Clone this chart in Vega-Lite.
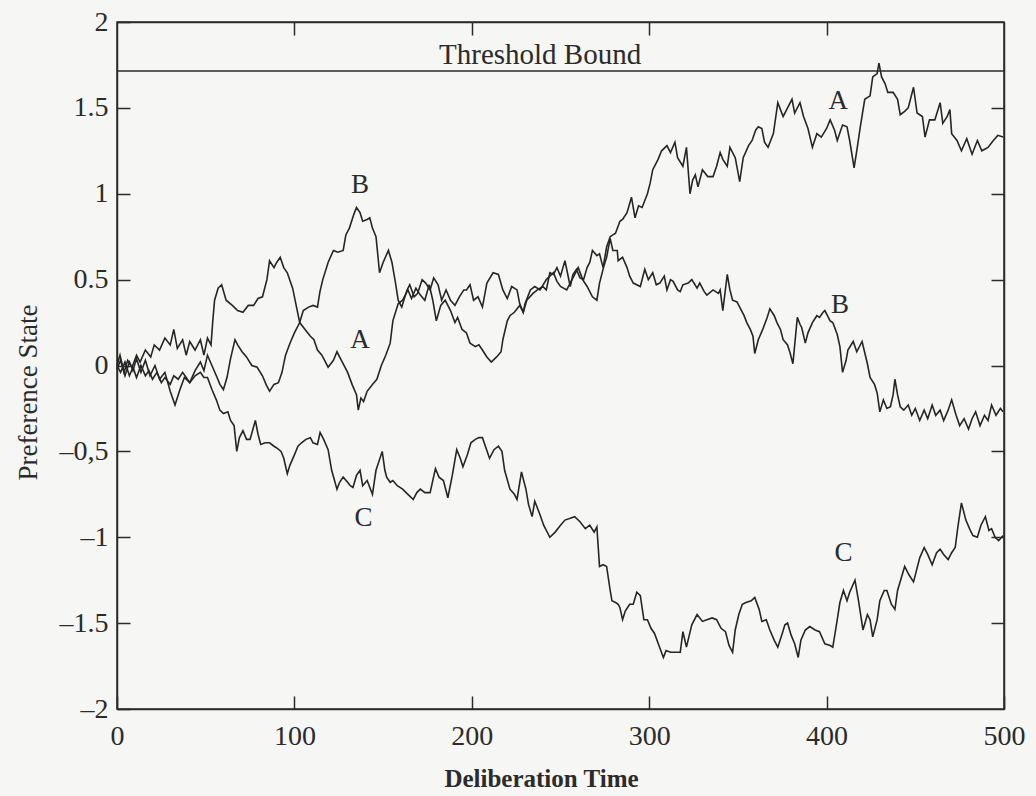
{
  "$schema": "https://vega.github.io/schema/vega-lite/v6.json",
  "width": 887,
  "height": 687,
  "autosize": {"type": "none"},
  "padding": {"left": 117, "top": 22, "right": 32, "bottom": 87},
  "background": "#f6f6f4",
  "config": {
    "view": {"stroke": "#2b2b2b", "strokeWidth": 1.5},
    "font": "Liberation Serif",
    "axis": {
      "labelFont": "Liberation Serif",
      "titleFont": "Liberation Serif",
      "labelColor": "#2b2b2b",
      "titleColor": "#2b2b2b",
      "domainColor": "#2b2b2b",
      "tickColor": "#2b2b2b",
      "domainWidth": 1.5,
      "tickWidth": 1.5,
      "grid": false
    }
  },
  "datasets": {
    "paths": [
      {"s":"A","t":0,"v":0},{"s":"A","t":1.7,"v":0.06},{"s":"A","t":4,"v":-0.04},{"s":"A","t":6,"v":0.03},{"s":"A","t":8.5,"v":-0.01},{"s":"A","t":11,"v":0.06},{"s":"A","t":13,"v":0.02},{"s":"A","t":16,"v":0.09},{"s":"A","t":19,"v":0.05},{"s":"A","t":21,"v":0.12},{"s":"A","t":24,"v":0.09},{"s":"A","t":27,"v":0.16},{"s":"A","t":30,"v":0.12},{"s":"A","t":32,"v":0.21},{"s":"A","t":34,"v":0.1},{"s":"A","t":37,"v":0.15},{"s":"A","t":39,"v":0.06},{"s":"A","t":41,"v":0.14},{"s":"A","t":44,"v":0.09},{"s":"A","t":47,"v":0.15},{"s":"A","t":49,"v":0.06},{"s":"A","t":51,"v":0.16},{"s":"A","t":53,"v":0.12},{"s":"A","t":54,"v":0.26},{"s":"A","t":55,"v":0.38},{"s":"A","t":57,"v":0.45},{"s":"A","t":59,"v":0.47},{"s":"A","t":61.5,"v":0.38},{"s":"A","t":65,"v":0.35},{"s":"A","t":68,"v":0.32},{"s":"A","t":71,"v":0.31},{"s":"A","t":74,"v":0.35},{"s":"A","t":77,"v":0.35},{"s":"A","t":79.5,"v":0.39},{"s":"A","t":82,"v":0.4},{"s":"A","t":84.5,"v":0.5},{"s":"A","t":86,"v":0.61},{"s":"A","t":88.5,"v":0.57},{"s":"A","t":90,"v":0.6},{"s":"A","t":92,"v":0.63},{"s":"A","t":94,"v":0.57},{"s":"A","t":96,"v":0.54},{"s":"A","t":99,"v":0.45},{"s":"A","t":101,"v":0.35},{"s":"A","t":103,"v":0.25},{"s":"A","t":106,"v":0.21},{"s":"A","t":109,"v":0.17},{"s":"A","t":111,"v":0.15},{"s":"A","t":113,"v":0.09},{"s":"A","t":115.5,"v":0.06},{"s":"A","t":119,"v":-0.01},{"s":"A","t":122,"v":0.03},{"s":"A","t":124,"v":0.08},{"s":"A","t":127,"v":0.02},{"s":"A","t":130,"v":-0.04},{"s":"A","t":132.5,"v":-0.11},{"s":"A","t":135,"v":-0.17},{"s":"A","t":136,"v":-0.26},{"s":"A","t":137.5,"v":-0.19},{"s":"A","t":139,"v":-0.21},{"s":"A","t":141,"v":-0.15},{"s":"A","t":144,"v":-0.11},{"s":"A","t":146.5,"v":-0.08},{"s":"A","t":149,"v":0},{"s":"A","t":151.5,"v":0.06},{"s":"A","t":154,"v":0.13},{"s":"A","t":155.5,"v":0.26},{"s":"A","t":158.5,"v":0.36},{"s":"A","t":161,"v":0.38},{"s":"A","t":164,"v":0.44},{"s":"A","t":166,"v":0.39},{"s":"A","t":168.5,"v":0.45},{"s":"A","t":171,"v":0.41},{"s":"A","t":173.5,"v":0.38},{"s":"A","t":176,"v":0.47},{"s":"A","t":178,"v":0.38},{"s":"A","t":180,"v":0.26},{"s":"A","t":182.5,"v":0.35},{"s":"A","t":185,"v":0.38},{"s":"A","t":188,"v":0.32},{"s":"A","t":190.5,"v":0.25},{"s":"A","t":192,"v":0.28},{"s":"A","t":194.5,"v":0.21},{"s":"A","t":197,"v":0.19},{"s":"A","t":199,"v":0.13},{"s":"A","t":202,"v":0.11},{"s":"A","t":204,"v":0.12},{"s":"A","t":206,"v":0.09},{"s":"A","t":208.5,"v":0.05},{"s":"A","t":211,"v":0.02},{"s":"A","t":214,"v":0.05},{"s":"A","t":216.5,"v":0.08},{"s":"A","t":217.5,"v":0.15},{"s":"A","t":220,"v":0.26},{"s":"A","t":221.5,"v":0.29},{"s":"A","t":224,"v":0.31},{"s":"A","t":227,"v":0.35},{"s":"A","t":229,"v":0.31},{"s":"A","t":231,"v":0.38},{"s":"A","t":234.5,"v":0.42},{"s":"A","t":237,"v":0.44},{"s":"A","t":240,"v":0.46},{"s":"A","t":242,"v":0.44},{"s":"A","t":244,"v":0.54},{"s":"A","t":246,"v":0.53},{"s":"A","t":248,"v":0.57},{"s":"A","t":250,"v":0.52},{"s":"A","t":252.5,"v":0.61},{"s":"A","t":255.5,"v":0.46},{"s":"A","t":257,"v":0.53},{"s":"A","t":259,"v":0.56},{"s":"A","t":261,"v":0.51},{"s":"A","t":263,"v":0.5},{"s":"A","t":265,"v":0.57},{"s":"A","t":266.5,"v":0.6},{"s":"A","t":268,"v":0.67},{"s":"A","t":270.5,"v":0.64},{"s":"A","t":272,"v":0.65},{"s":"A","t":274,"v":0.57},{"s":"A","t":276,"v":0.69},{"s":"A","t":278,"v":0.75},{"s":"A","t":281,"v":0.77},{"s":"A","t":283.5,"v":0.84},{"s":"A","t":285,"v":0.85},{"s":"A","t":287.5,"v":0.89},{"s":"A","t":290,"v":0.98},{"s":"A","t":292,"v":0.86},{"s":"A","t":294,"v":0.93},{"s":"A","t":296,"v":0.92},{"s":"A","t":299,"v":1.0},{"s":"A","t":300.5,"v":1.06},{"s":"A","t":302,"v":1.14},{"s":"A","t":305,"v":1.2},{"s":"A","t":307,"v":1.25},{"s":"A","t":310,"v":1.28},{"s":"A","t":312,"v":1.24},{"s":"A","t":314.5,"v":1.3},{"s":"A","t":316,"v":1.21},{"s":"A","t":319,"v":1.16},{"s":"A","t":321,"v":1.27},{"s":"A","t":323,"v":1.0},{"s":"A","t":324.5,"v":1.08},{"s":"A","t":326,"v":1.11},{"s":"A","t":327.5,"v":1.04},{"s":"A","t":330,"v":1.14},{"s":"A","t":333,"v":1.1},{"s":"A","t":336,"v":1.1},{"s":"A","t":338,"v":1.16},{"s":"A","t":340,"v":1.24},{"s":"A","t":341.5,"v":1.2},{"s":"A","t":344,"v":1.16},{"s":"A","t":345.5,"v":1.27},{"s":"A","t":348.5,"v":1.21},{"s":"A","t":351,"v":1.07},{"s":"A","t":353,"v":1.21},{"s":"A","t":356,"v":1.28},{"s":"A","t":358,"v":1.31},{"s":"A","t":360,"v":1.37},{"s":"A","t":361.5,"v":1.39},{"s":"A","t":363.5,"v":1.38},{"s":"A","t":365,"v":1.3},{"s":"A","t":367,"v":1.27},{"s":"A","t":370,"v":1.35},{"s":"A","t":372.5,"v":1.53},{"s":"A","t":375.5,"v":1.45},{"s":"A","t":378,"v":1.5},{"s":"A","t":380.5,"v":1.55},{"s":"A","t":382,"v":1.47},{"s":"A","t":385,"v":1.53},{"s":"A","t":387,"v":1.45},{"s":"A","t":389.5,"v":1.38},{"s":"A","t":392,"v":1.27},{"s":"A","t":394.5,"v":1.35},{"s":"A","t":397,"v":1.33},{"s":"A","t":400,"v":1.38},{"s":"A","t":402,"v":1.43},{"s":"A","t":404.5,"v":1.37},{"s":"A","t":406,"v":1.31},{"s":"A","t":409,"v":1.4},{"s":"A","t":411.5,"v":1.39},{"s":"A","t":413,"v":1.31},{"s":"A","t":415.5,"v":1.15},{"s":"A","t":417,"v":1.25},{"s":"A","t":419,"v":1.39},{"s":"A","t":421.5,"v":1.55},{"s":"A","t":424.5,"v":1.57},{"s":"A","t":426,"v":1.68},{"s":"A","t":428.5,"v":1.7},{"s":"A","t":429.5,"v":1.76},{"s":"A","t":431,"v":1.68},{"s":"A","t":433,"v":1.64},{"s":"A","t":434.5,"v":1.59},{"s":"A","t":437.5,"v":1.59},{"s":"A","t":440,"v":1.55},{"s":"A","t":441.5,"v":1.46},{"s":"A","t":444,"v":1.48},{"s":"A","t":446,"v":1.5},{"s":"A","t":449,"v":1.62},{"s":"A","t":451,"v":1.47},{"s":"A","t":454,"v":1.45},{"s":"A","t":455.5,"v":1.33},{"s":"A","t":458,"v":1.43},{"s":"A","t":461,"v":1.43},{"s":"A","t":464,"v":1.53},{"s":"A","t":465.5,"v":1.41},{"s":"A","t":468,"v":1.45},{"s":"A","t":469.5,"v":1.49},{"s":"A","t":470.5,"v":1.35},{"s":"A","t":473.5,"v":1.31},{"s":"A","t":476,"v":1.25},{"s":"A","t":479,"v":1.32},{"s":"A","t":482,"v":1.23},{"s":"A","t":485,"v":1.31},{"s":"A","t":487.5,"v":1.25},{"s":"A","t":491,"v":1.27},{"s":"A","t":494,"v":1.31},{"s":"A","t":496.5,"v":1.34},{"s":"A","t":499.5,"v":1.33},
      {"s":"B","t":0,"v":-0.02},{"s":"B","t":2,"v":0.03},{"s":"B","t":4.5,"v":-0.06},{"s":"B","t":7,"v":0.02},{"s":"B","t":9,"v":-0.03},{"s":"B","t":11,"v":0.04},{"s":"B","t":13.5,"v":-0.04},{"s":"B","t":16,"v":0.03},{"s":"B","t":18.6,"v":-0.06},{"s":"B","t":21.4,"v":0},{"s":"B","t":24,"v":-0.08},{"s":"B","t":27,"v":-0.04},{"s":"B","t":30,"v":-0.15},{"s":"B","t":32.7,"v":-0.23},{"s":"B","t":35.5,"v":-0.14},{"s":"B","t":38,"v":-0.07},{"s":"B","t":41,"v":-0.1},{"s":"B","t":44,"v":-0.03},{"s":"B","t":47,"v":0.02},{"s":"B","t":49,"v":-0.03},{"s":"B","t":51,"v":0.06},{"s":"B","t":53.5,"v":0},{"s":"B","t":56,"v":-0.06},{"s":"B","t":58,"v":-0.11},{"s":"B","t":60,"v":-0.14},{"s":"B","t":62,"v":-0.07},{"s":"B","t":64,"v":0.04},{"s":"B","t":66.5,"v":0.15},{"s":"B","t":68,"v":0.12},{"s":"B","t":70.5,"v":0.08},{"s":"B","t":73,"v":0.05},{"s":"B","t":76,"v":0},{"s":"B","t":79,"v":-0.01},{"s":"B","t":82,"v":-0.06},{"s":"B","t":84,"v":-0.11},{"s":"B","t":86,"v":-0.15},{"s":"B","t":88.5,"v":-0.11},{"s":"B","t":91,"v":-0.1},{"s":"B","t":93,"v":-0.04},{"s":"B","t":95,"v":0.06},{"s":"B","t":97.5,"v":0.13},{"s":"B","t":100,"v":0.19},{"s":"B","t":103,"v":0.25},{"s":"B","t":105,"v":0.32},{"s":"B","t":108,"v":0.34},{"s":"B","t":110.5,"v":0.35},{"s":"B","t":113,"v":0.34},{"s":"B","t":114.4,"v":0.43},{"s":"B","t":116,"v":0.5},{"s":"B","t":119,"v":0.6},{"s":"B","t":122,"v":0.67},{"s":"B","t":124.5,"v":0.66},{"s":"B","t":127.5,"v":0.67},{"s":"B","t":129,"v":0.76},{"s":"B","t":131,"v":0.8},{"s":"B","t":133.5,"v":0.88},{"s":"B","t":135,"v":0.92},{"s":"B","t":137,"v":0.89},{"s":"B","t":138.5,"v":0.84},{"s":"B","t":141,"v":0.85},{"s":"B","t":142.5,"v":0.86},{"s":"B","t":144,"v":0.8},{"s":"B","t":146,"v":0.75},{"s":"B","t":148,"v":0.54},{"s":"B","t":150,"v":0.6},{"s":"B","t":153,"v":0.67},{"s":"B","t":155,"v":0.6},{"s":"B","t":157,"v":0.48},{"s":"B","t":158.5,"v":0.38},{"s":"B","t":160.5,"v":0.34},{"s":"B","t":163.5,"v":0.44},{"s":"B","t":165,"v":0.47},{"s":"B","t":167.5,"v":0.4},{"s":"B","t":169.5,"v":0.42},{"s":"B","t":172,"v":0.5},{"s":"B","t":174,"v":0.48},{"s":"B","t":176.5,"v":0.44},{"s":"B","t":178.5,"v":0.51},{"s":"B","t":181,"v":0.47},{"s":"B","t":183,"v":0.38},{"s":"B","t":185.5,"v":0.44},{"s":"B","t":188,"v":0.38},{"s":"B","t":190.5,"v":0.35},{"s":"B","t":193,"v":0.4},{"s":"B","t":195.5,"v":0.44},{"s":"B","t":197,"v":0.44},{"s":"B","t":199,"v":0.47},{"s":"B","t":201,"v":0.38},{"s":"B","t":203.5,"v":0.4},{"s":"B","t":206,"v":0.34},{"s":"B","t":208.5,"v":0.48},{"s":"B","t":212,"v":0.54},{"s":"B","t":215,"v":0.53},{"s":"B","t":217.5,"v":0.44},{"s":"B","t":220,"v":0.39},{"s":"B","t":222.5,"v":0.46},{"s":"B","t":225.5,"v":0.44},{"s":"B","t":227,"v":0.36},{"s":"B","t":229,"v":0.31},{"s":"B","t":230,"v":0.36},{"s":"B","t":233,"v":0.44},{"s":"B","t":235.5,"v":0.46},{"s":"B","t":238.5,"v":0.44},{"s":"B","t":242,"v":0.5},{"s":"B","t":246,"v":0.54},{"s":"B","t":248,"v":0.49},{"s":"B","t":250,"v":0.46},{"s":"B","t":253.5,"v":0.44},{"s":"B","t":256.5,"v":0.5},{"s":"B","t":260,"v":0.57},{"s":"B","t":262.5,"v":0.5},{"s":"B","t":265,"v":0.46},{"s":"B","t":268,"v":0.4},{"s":"B","t":270.5,"v":0.38},{"s":"B","t":272,"v":0.48},{"s":"B","t":274.5,"v":0.58},{"s":"B","t":276,"v":0.63},{"s":"B","t":278,"v":0.74},{"s":"B","t":279.5,"v":0.67},{"s":"B","t":282,"v":0.67},{"s":"B","t":282.5,"v":0.61},{"s":"B","t":285,"v":0.63},{"s":"B","t":287.5,"v":0.57},{"s":"B","t":289,"v":0.52},{"s":"B","t":291,"v":0.48},{"s":"B","t":295,"v":0.46},{"s":"B","t":297.5,"v":0.56},{"s":"B","t":299.5,"v":0.5},{"s":"B","t":302,"v":0.54},{"s":"B","t":304,"v":0.47},{"s":"B","t":306,"v":0.48},{"s":"B","t":308.5,"v":0.52},{"s":"B","t":310,"v":0.44},{"s":"B","t":312,"v":0.5},{"s":"B","t":313.5,"v":0.49},{"s":"B","t":316,"v":0.44},{"s":"B","t":317.5,"v":0.43},{"s":"B","t":319,"v":0.47},{"s":"B","t":322,"v":0.48},{"s":"B","t":324,"v":0.5},{"s":"B","t":327,"v":0.45},{"s":"B","t":328.5,"v":0.48},{"s":"B","t":331,"v":0.43},{"s":"B","t":332.5,"v":0.41},{"s":"B","t":336,"v":0.44},{"s":"B","t":339,"v":0.42},{"s":"B","t":340,"v":0.44},{"s":"B","t":341.5,"v":0.32},{"s":"B","t":344,"v":0.53},{"s":"B","t":345.5,"v":0.44},{"s":"B","t":347,"v":0.38},{"s":"B","t":349.5,"v":0.37},{"s":"B","t":351,"v":0.34},{"s":"B","t":353.5,"v":0.29},{"s":"B","t":355,"v":0.25},{"s":"B","t":357,"v":0.21},{"s":"B","t":358.5,"v":0.17},{"s":"B","t":359.5,"v":0.07},{"s":"B","t":361.5,"v":0.15},{"s":"B","t":364,"v":0.21},{"s":"B","t":366.5,"v":0.28},{"s":"B","t":368,"v":0.33},{"s":"B","t":370.5,"v":0.29},{"s":"B","t":372,"v":0.25},{"s":"B","t":374,"v":0.21},{"s":"B","t":375.5,"v":0.15},{"s":"B","t":378,"v":0.12},{"s":"B","t":379.5,"v":0.07},{"s":"B","t":381,"v":0.01},{"s":"B","t":383.5,"v":0.28},{"s":"B","t":385,"v":0.24},{"s":"B","t":386,"v":0.22},{"s":"B","t":388,"v":0.13},{"s":"B","t":389.5,"v":0.19},{"s":"B","t":392,"v":0.25},{"s":"B","t":394.5,"v":0.29},{"s":"B","t":396,"v":0.28},{"s":"B","t":398,"v":0.31},{"s":"B","t":399,"v":0.32},{"s":"B","t":401,"v":0.28},{"s":"B","t":402,"v":0.26},{"s":"B","t":403.5,"v":0.25},{"s":"B","t":406,"v":0.18},{"s":"B","t":407.5,"v":0.11},{"s":"B","t":409,"v":-0.04},{"s":"B","t":411,"v":0.03},{"s":"B","t":412,"v":0.09},{"s":"B","t":415,"v":0.14},{"s":"B","t":417,"v":0.08},{"s":"B","t":420,"v":0.14},{"s":"B","t":423,"v":0.01},{"s":"B","t":424.5,"v":-0.07},{"s":"B","t":427,"v":-0.11},{"s":"B","t":428.5,"v":-0.16},{"s":"B","t":430,"v":-0.27},{"s":"B","t":432,"v":-0.2},{"s":"B","t":434,"v":-0.25},{"s":"B","t":436,"v":-0.24},{"s":"B","t":437.5,"v":-0.17},{"s":"B","t":438.5,"v":-0.08},{"s":"B","t":440,"v":-0.17},{"s":"B","t":441.5,"v":-0.24},{"s":"B","t":443.5,"v":-0.26},{"s":"B","t":446,"v":-0.23},{"s":"B","t":448,"v":-0.29},{"s":"B","t":450,"v":-0.25},{"s":"B","t":452.5,"v":-0.32},{"s":"B","t":455,"v":-0.26},{"s":"B","t":457,"v":-0.31},{"s":"B","t":459.5,"v":-0.23},{"s":"B","t":461.5,"v":-0.29},{"s":"B","t":464,"v":-0.26},{"s":"B","t":466,"v":-0.32},{"s":"B","t":468.5,"v":-0.26},{"s":"B","t":470.5,"v":-0.2},{"s":"B","t":473,"v":-0.29},{"s":"B","t":475,"v":-0.35},{"s":"B","t":477.5,"v":-0.31},{"s":"B","t":480,"v":-0.37},{"s":"B","t":482,"v":-0.31},{"s":"B","t":484,"v":-0.27},{"s":"B","t":486.5,"v":-0.35},{"s":"B","t":489,"v":-0.29},{"s":"B","t":491,"v":-0.32},{"s":"B","t":493,"v":-0.23},{"s":"B","t":495.5,"v":-0.29},{"s":"B","t":498,"v":-0.25},{"s":"B","t":499.5,"v":-0.27},
      {"s":"C","t":0,"v":0},{"s":"C","t":2,"v":-0.04},{"s":"C","t":4.5,"v":0.02},{"s":"C","t":7,"v":-0.06},{"s":"C","t":9,"v":-0.01},{"s":"C","t":11,"v":-0.07},{"s":"C","t":13.5,"v":0},{"s":"C","t":16,"v":-0.06},{"s":"C","t":18,"v":-0.03},{"s":"C","t":20,"v":-0.08},{"s":"C","t":22.5,"v":-0.04},{"s":"C","t":25,"v":-0.1},{"s":"C","t":27,"v":-0.07},{"s":"C","t":30,"v":-0.11},{"s":"C","t":32,"v":-0.06},{"s":"C","t":34.5,"v":-0.08},{"s":"C","t":37,"v":-0.04},{"s":"C","t":39,"v":-0.07},{"s":"C","t":41,"v":-0.1},{"s":"C","t":44,"v":-0.06},{"s":"C","t":47,"v":-0.04},{"s":"C","t":49,"v":-0.07},{"s":"C","t":51,"v":-0.07},{"s":"C","t":53.5,"v":-0.14},{"s":"C","t":56,"v":-0.2},{"s":"C","t":58,"v":-0.26},{"s":"C","t":60,"v":-0.28},{"s":"C","t":62.5,"v":-0.27},{"s":"C","t":64,"v":-0.32},{"s":"C","t":66,"v":-0.35},{"s":"C","t":67.5,"v":-0.5},{"s":"C","t":69,"v":-0.42},{"s":"C","t":71,"v":-0.38},{"s":"C","t":73,"v":-0.43},{"s":"C","t":75,"v":-0.43},{"s":"C","t":78,"v":-0.32},{"s":"C","t":79.5,"v":-0.4},{"s":"C","t":81,"v":-0.46},{"s":"C","t":83.5,"v":-0.45},{"s":"C","t":86,"v":-0.45},{"s":"C","t":88.5,"v":-0.47},{"s":"C","t":90,"v":-0.48},{"s":"C","t":92.5,"v":-0.5},{"s":"C","t":94,"v":-0.54},{"s":"C","t":96,"v":-0.63},{"s":"C","t":97.5,"v":-0.58},{"s":"C","t":100,"v":-0.52},{"s":"C","t":102,"v":-0.47},{"s":"C","t":104,"v":-0.45},{"s":"C","t":106.5,"v":-0.43},{"s":"C","t":109,"v":-0.42},{"s":"C","t":110.5,"v":-0.45},{"s":"C","t":113,"v":-0.46},{"s":"C","t":114.5,"v":-0.39},{"s":"C","t":116.5,"v":-0.43},{"s":"C","t":119,"v":-0.49},{"s":"C","t":121,"v":-0.61},{"s":"C","t":124,"v":-0.72},{"s":"C","t":125.5,"v":-0.68},{"s":"C","t":127.5,"v":-0.65},{"s":"C","t":130,"v":-0.68},{"s":"C","t":131.5,"v":-0.7},{"s":"C","t":133,"v":-0.71},{"s":"C","t":135,"v":-0.64},{"s":"C","t":137,"v":-0.61},{"s":"C","t":138.5,"v":-0.7},{"s":"C","t":141,"v":-0.67},{"s":"C","t":144,"v":-0.75},{"s":"C","t":146,"v":-0.61},{"s":"C","t":149.5,"v":-0.5},{"s":"C","t":151,"v":-0.61},{"s":"C","t":152,"v":-0.65},{"s":"C","t":154,"v":-0.68},{"s":"C","t":155.5,"v":-0.67},{"s":"C","t":158,"v":-0.7},{"s":"C","t":161,"v":-0.72},{"s":"C","t":164,"v":-0.75},{"s":"C","t":167,"v":-0.78},{"s":"C","t":169,"v":-0.74},{"s":"C","t":171,"v":-0.72},{"s":"C","t":173.5,"v":-0.74},{"s":"C","t":176.5,"v":-0.74},{"s":"C","t":179.5,"v":-0.6},{"s":"C","t":181.5,"v":-0.65},{"s":"C","t":184,"v":-0.67},{"s":"C","t":186.5,"v":-0.77},{"s":"C","t":189,"v":-0.64},{"s":"C","t":191.5,"v":-0.49},{"s":"C","t":193.5,"v":-0.54},{"s":"C","t":195,"v":-0.59},{"s":"C","t":197.5,"v":-0.52},{"s":"C","t":199.5,"v":-0.45},{"s":"C","t":202,"v":-0.43},{"s":"C","t":204,"v":-0.42},{"s":"C","t":206,"v":-0.42},{"s":"C","t":208,"v":-0.48},{"s":"C","t":210,"v":-0.54},{"s":"C","t":212.5,"v":-0.49},{"s":"C","t":215,"v":-0.47},{"s":"C","t":217,"v":-0.5},{"s":"C","t":218.5,"v":-0.61},{"s":"C","t":221.5,"v":-0.72},{"s":"C","t":224,"v":-0.75},{"s":"C","t":225.5,"v":-0.78},{"s":"C","t":228,"v":-0.62},{"s":"C","t":230.5,"v":-0.72},{"s":"C","t":232,"v":-0.81},{"s":"C","t":234,"v":-0.88},{"s":"C","t":235.5,"v":-0.79},{"s":"C","t":238.5,"v":-0.87},{"s":"C","t":240.5,"v":-0.93},{"s":"C","t":244,"v":-1.0},{"s":"C","t":247,"v":-0.97},{"s":"C","t":250,"v":-0.93},{"s":"C","t":252.5,"v":-0.9},{"s":"C","t":255.5,"v":-0.89},{"s":"C","t":258,"v":-0.88},{"s":"C","t":261,"v":-0.91},{"s":"C","t":264,"v":-0.95},{"s":"C","t":266.5,"v":-0.93},{"s":"C","t":269,"v":-0.97},{"s":"C","t":270.5,"v":-0.94},{"s":"C","t":272,"v":-1.17},{"s":"C","t":274,"v":-1.16},{"s":"C","t":276,"v":-1.17},{"s":"C","t":278,"v":-1.31},{"s":"C","t":279,"v":-1.37},{"s":"C","t":281,"v":-1.38},{"s":"C","t":282.5,"v":-1.39},{"s":"C","t":283.5,"v":-1.41},{"s":"C","t":285,"v":-1.48},{"s":"C","t":286.5,"v":-1.43},{"s":"C","t":289,"v":-1.39},{"s":"C","t":291,"v":-1.39},{"s":"C","t":293,"v":-1.32},{"s":"C","t":295,"v":-1.34},{"s":"C","t":297,"v":-1.48},{"s":"C","t":299,"v":-1.48},{"s":"C","t":301,"v":-1.53},{"s":"C","t":303,"v":-1.56},{"s":"C","t":305.5,"v":-1.63},{"s":"C","t":308,"v":-1.7},{"s":"C","t":309.5,"v":-1.66},{"s":"C","t":312,"v":-1.67},{"s":"C","t":314.5,"v":-1.67},{"s":"C","t":317.5,"v":-1.67},{"s":"C","t":319,"v":-1.55},{"s":"C","t":321,"v":-1.64},{"s":"C","t":324,"v":-1.51},{"s":"C","t":327,"v":-1.45},{"s":"C","t":330,"v":-1.49},{"s":"C","t":332.5,"v":-1.48},{"s":"C","t":335.5,"v":-1.47},{"s":"C","t":338,"v":-1.48},{"s":"C","t":340.5,"v":-1.53},{"s":"C","t":343,"v":-1.55},{"s":"C","t":345,"v":-1.63},{"s":"C","t":347,"v":-1.67},{"s":"C","t":348.5,"v":-1.54},{"s":"C","t":350.5,"v":-1.45},{"s":"C","t":352.5,"v":-1.39},{"s":"C","t":354.5,"v":-1.38},{"s":"C","t":357.5,"v":-1.37},{"s":"C","t":359.5,"v":-1.35},{"s":"C","t":362,"v":-1.42},{"s":"C","t":363.5,"v":-1.49},{"s":"C","t":366,"v":-1.48},{"s":"C","t":368,"v":-1.54},{"s":"C","t":370.5,"v":-1.6},{"s":"C","t":372.5,"v":-1.64},{"s":"C","t":375,"v":-1.56},{"s":"C","t":376.5,"v":-1.51},{"s":"C","t":378,"v":-1.5},{"s":"C","t":380,"v":-1.57},{"s":"C","t":382,"v":-1.62},{"s":"C","t":384,"v":-1.7},{"s":"C","t":385.5,"v":-1.6},{"s":"C","t":388,"v":-1.54},{"s":"C","t":390.5,"v":-1.52},{"s":"C","t":393.5,"v":-1.54},{"s":"C","t":396,"v":-1.55},{"s":"C","t":399,"v":-1.62},{"s":"C","t":402,"v":-1.63},{"s":"C","t":403.5,"v":-1.64},{"s":"C","t":406,"v":-1.48},{"s":"C","t":407.5,"v":-1.38},{"s":"C","t":409.5,"v":-1.31},{"s":"C","t":411.5,"v":-1.37},{"s":"C","t":413,"v":-1.32},{"s":"C","t":416,"v":-1.25},{"s":"C","t":418,"v":-1.37},{"s":"C","t":420.5,"v":-1.54},{"s":"C","t":423,"v":-1.45},{"s":"C","t":424.5,"v":-1.48},{"s":"C","t":426,"v":-1.58},{"s":"C","t":428.5,"v":-1.48},{"s":"C","t":430,"v":-1.37},{"s":"C","t":432.5,"v":-1.31},{"s":"C","t":434,"v":-1.31},{"s":"C","t":436.5,"v":-1.39},{"s":"C","t":438.5,"v":-1.42},{"s":"C","t":440,"v":-1.31},{"s":"C","t":442,"v":-1.24},{"s":"C","t":444,"v":-1.17},{"s":"C","t":446.5,"v":-1.22},{"s":"C","t":449,"v":-1.26},{"s":"C","t":451,"v":-1.18},{"s":"C","t":452.5,"v":-1.12},{"s":"C","t":455,"v":-1.06},{"s":"C","t":457,"v":-1.1},{"s":"C","t":459.5,"v":-1.16},{"s":"C","t":462,"v":-1.09},{"s":"C","t":464,"v":-1.07},{"s":"C","t":466,"v":-1.1},{"s":"C","t":468.5,"v":-1.13},{"s":"C","t":470.5,"v":-1.09},{"s":"C","t":472.5,"v":-1.06},{"s":"C","t":474,"v":-0.94},{"s":"C","t":476,"v":-0.8},{"s":"C","t":478.5,"v":-0.9},{"s":"C","t":481,"v":-0.96},{"s":"C","t":482.5,"v":-0.99},{"s":"C","t":485,"v":-1.0},{"s":"C","t":487,"v":-0.93},{"s":"C","t":489.5,"v":-0.88},{"s":"C","t":491.5,"v":-0.96},{"s":"C","t":493,"v":-0.95},{"s":"C","t":495,"v":-1.0},{"s":"C","t":497,"v":-1.02},{"s":"C","t":499.5,"v":-0.99}
    ],
    "labels": [
      {"t":137,"v":0.15,"txt":"A"},
      {"t":137,"v":1.05,"txt":"B"},
      {"t":139,"v":-0.89,"txt":"C"},
      {"t":406.5,"v":1.54,"txt":"A"},
      {"t":407.5,"v":0.35,"txt":"B"},
      {"t":409.5,"v":-1.09,"txt":"C"}
    ],
    "boundlabel": [{"t":238.5,"v":1.81,"txt":"Threshold Bound"}],
    "bound": [{"v":1.715}]
  },
  "resolve": {"axis": {"x": "independent", "y": "independent"}},
  "layer": [
    {
      "data": {"name": "paths"},
      "mark": {"type": "line", "stroke": "#262626", "strokeWidth": 1.6, "interpolate": "linear"},
      "encoding": {
        "x": {"field": "t", "type": "quantitative", "scale": {"domain": [0, 500], "nice": false, "zero": false},
          "axis": {"orient": "bottom", "values": [0, 100, 200, 300, 400, 500], "tickSize": -13, "labelPadding": 26, "labelFontSize": 28, "labelFlush": false,
            "title": "Deliberation Time", "titleFontSize": 25, "titleFontWeight": 600, "titleX": 424, "titleY": 69, "titleBaseline": "middle"}},
        "y": {"field": "v", "type": "quantitative", "scale": {"domain": [-2, 2], "nice": false, "zero": false},
          "axis": {"orient": "left", "values": [-2, -1.5, -1, -0.5, 0, 0.5, 1, 1.5, 2], "tickSize": -13, "labelPadding": 22, "labelFontSize": 28, "labelFlush": false,
            "labelExpr": "datum.value == -0.5 ? '–0,5' : (datum.value < 0 ? '–' + abs(datum.value) : '' + datum.value)",
            "title": "Preference State", "titleFontSize": 27, "titleFontWeight": "normal", "titleX": -89, "titleY": 370, "titleBaseline": "middle", "titleAngle": -90}},
        "detail": {"field": "s", "type": "nominal"}
      }
    },
    {
      "data": {"name": "bound"},
      "mark": {"type": "rule", "stroke": "#2b2b2b", "strokeWidth": 1.5},
      "encoding": {
        "y": {"field": "v", "type": "quantitative", "axis": {"orient": "right", "values": [-1.5, -1, -0.5, 0, 0.5, 1, 1.5], "tickSize": -13, "labels": false, "title": null}}
      }
    },
    {
      "data": {"name": "labels"},
      "mark": {"type": "text", "font": "Liberation Serif", "fontSize": 27, "fill": "#2b2b2b", "baseline": "middle", "align": "center"},
      "encoding": {
        "x": {"field": "t", "type": "quantitative", "axis": {"orient": "top", "values": [100, 200, 300, 400], "tickSize": -13, "labels": false, "title": null}},
        "y": {"field": "v", "type": "quantitative", "axis": null},
        "text": {"field": "txt"}
      }
    },
    {
      "data": {"name": "boundlabel"},
      "mark": {"type": "text", "font": "Liberation Serif", "fontSize": 29, "fill": "#2b2b2b", "baseline": "middle", "align": "center", "letterSpacing": 0.8},
      "encoding": {
        "x": {"field": "t", "type": "quantitative", "axis": null},
        "y": {"field": "v", "type": "quantitative", "axis": null},
        "text": {"field": "txt"}
      }
    }
  ]
}
